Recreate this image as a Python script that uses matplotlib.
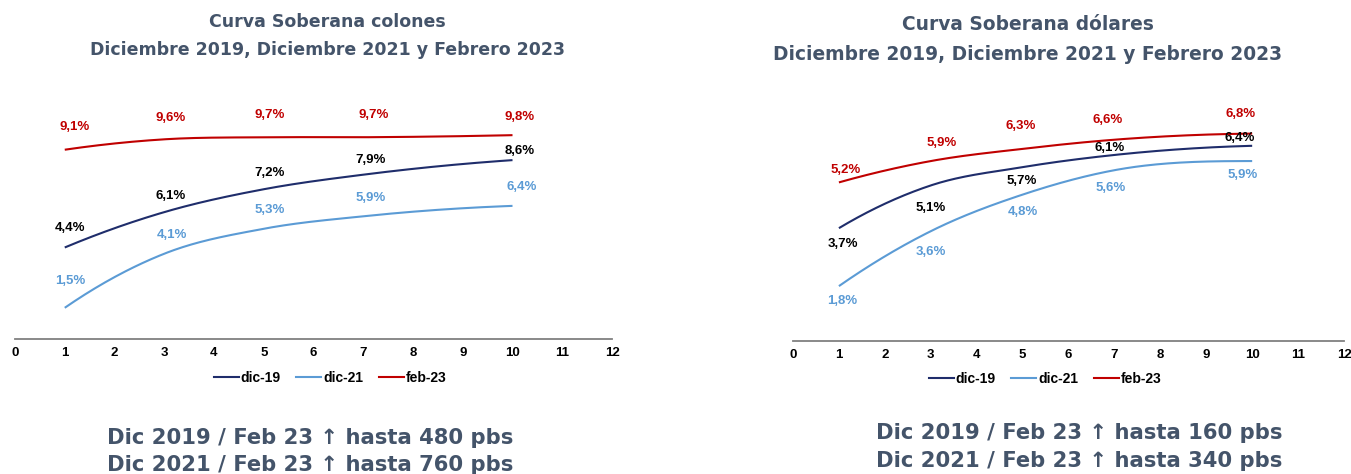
import numpy as np
import matplotlib
matplotlib.use("Agg")
import matplotlib.pyplot as plt
from matplotlib.lines import Line2D

# ---------------- data ----------------
plazos = [1, 3, 5, 7, 10]
series_names = ["dic-19", "dic-21", "feb-23"]

colones_dic19 = [4.4, 6.1, 7.2, 7.9, 8.6]
colones_dic21 = [1.5, 4.1, 5.3, 5.9, 6.4]
colones_feb23 = [9.1, 9.6, 9.7, 9.7, 9.8]

dolares_dic19 = [3.7, 5.1, 5.7, 6.1, 6.4]
dolares_dic21 = [1.8, 3.6, 4.8, 5.6, 5.9]
dolares_feb23 = [5.2, 5.9, 6.3, 6.6, 6.8]

x_ticks = list(range(0, 13))

title_colones = ["Curva Soberana colones", "Diciembre 2019, Diciembre 2021 y Febrero 2023"]
title_dolares = ["Curva Soberana dólares", "Diciembre 2019, Diciembre 2021 y Febrero 2023"]
notes_colones = ["Dic 2019 / Feb 23 \u2191 hasta 480 pbs", "Dic 2021 / Feb 23 \u2191 hasta 760 pbs"]
notes_dolares = ["Dic 2019 / Feb 23 \u2191 hasta 160 pbs", "Dic 2021 / Feb 23 \u2191 hasta 340 pbs"]

# ---------------- style ----------------
C_DIC19 = "#1F2D6B"
C_DIC21 = "#5B9BD5"
C_FEB23 = "#C00000"
LBL_COLORS = ["#000000", C_DIC21, C_FEB23]
LINE_COLORS = [C_DIC19, C_DIC21, C_FEB23]
TITLE_COLOR = "#44546A"

# label offsets in pixels (dx, dy up-positive)
off_col = [
    [(5, 19), (6, 16), (6, 16), (7, 15), (7, 9)],
    [(5, 27), (8, 19), (6, 19), (7, 18), (9, 19)],
    [(10, 23), (6, 21), (6, 22), (10, 22), (7, 18)],
]
off_dol = [
    [(4, -16), (0, -23), (-1, -14), (-5, 7), (-12, 8)],
    [(3, -15), (0, -21), (0, -17), (-4, -18), (-9, -14)],
    [(7, 12), (11, 18), (-2, 23), (-7, 20), (-12, 20)],
]


def smooth(xs, ys, n=60):
    """Smoothed line rendering (cubic Hermite through the data points)."""
    x = np.asarray(xs, float)
    y = np.asarray(ys, float)
    h = np.diff(x)
    s = np.diff(y) / h
    m = np.zeros_like(x)
    for i in range(1, len(x) - 1):
        m[i] = (h[i] * s[i - 1] + h[i - 1] * s[i]) / (h[i - 1] + h[i])
    m[0] = s[0] + (s[0] - s[1]) * h[0] / (h[0] + h[1])
    m[-1] = s[-1] + (s[-1] - s[-2]) * h[-1] / (h[-1] + h[-2])
    if m[-1] * s[-1] < 0:
        m[-1] = 0.0
    if m[0] * s[0] < 0:
        m[0] = 0.0
    X, Y = [], []
    for i in range(len(x) - 1):
        t = np.linspace(0, 1, n)
        h00 = 2 * t ** 3 - 3 * t ** 2 + 1
        h10 = t ** 3 - 2 * t ** 2 + t
        h01 = -2 * t ** 3 + 3 * t ** 2
        h11 = t ** 3 - t ** 2
        yy = h00 * y[i] + h10 * h[i] * m[i] + h01 * y[i + 1] + h11 * h[i] * m[i + 1]
        xx = x[i] + t * h[i]
        if i:
            xx, yy = xx[1:], yy[1:]
        X.append(xx)
        Y.append(yy)
    return np.concatenate(X), np.concatenate(Y)


W, H = 1351, 474
fig = plt.figure(figsize=(W / 100, H / 100), dpi=100)

LBL_FONT = dict(family="Liberation Sans", weight="bold", fontsize=9.5)


def draw(rect, ylim, data, offsets):
    ax = fig.add_axes(rect)
    for vals, col, lc, offs in zip(data, LINE_COLORS, LBL_COLORS, offsets):
        sx, sy = smooth(plazos, vals)
        ax.plot(sx, sy, color=col, lw=1.5, solid_capstyle="butt")
        for x, v, (dx, dy) in zip(plazos, vals, offs):
            ax.annotate(f"{v:.1f}%".replace(".", ","), (x, v), xytext=(dx * 0.72, dy * 0.72),
                        textcoords="offset points", ha="center", va="center", color=lc, **LBL_FONT)
    ax.set_xlim(0, 12)
    ax.set_ylim(*ylim)
    ax.set_xticks(x_ticks)
    ax.set_xticklabels([str(t) for t in x_ticks], family="Liberation Sans", weight="bold", fontsize=9.5)
    ax.tick_params(axis="x", length=0, pad=6)
    ax.set_yticks([])
    for s in ["top", "left", "right"]:
        ax.spines[s].set_visible(False)
    ax.spines["bottom"].set_color("#808080")
    ax.spines["bottom"].set_linewidth(1.3)
    ax.patch.set_alpha(0)
    return ax


def px_rect(x0, x1, y0_px, ppu, ymax):
    h = ymax * ppu
    return [x0 / W, (H - y0_px) / H, (x1 - x0) / W, h / H]


ax1 = draw(px_rect(15, 612, 339, 20.8, 10.8), (0, 10.8),
           [colones_dic19, colones_dic21, colones_feb23], off_col)
ax2 = draw(px_rect(793, 1344, 341, 30.5, 7.6), (0, 7.6),
           [dolares_dic19, dolares_dic21, dolares_feb23], off_dol)

handles = [Line2D([], [], color=c, lw=1.5) for c in LINE_COLORS]
leg_font = dict(family="Liberation Sans", weight="bold", size=10)
for cx, cy in [(330, 378), (1045, 379)]:
    fig.legend(handles, series_names, loc="center", bbox_to_anchor=(cx / W, 1 - cy / H),
               ncol=3, frameon=False, prop=leg_font, handlelength=1.8, handletextpad=0.15,
               columnspacing=1.1, borderaxespad=0, borderpad=0)

# titles
title_font = dict(family="DejaVu Sans", weight="bold", color=TITLE_COLOR, ha="center", va="center")
for cx, ys, size, lines in [(327, (22, 50), 12.5, title_colones), (1028, (24, 54), 13.4, title_dolares)]:
    for y, t in zip(ys, lines):
        fig.text(cx / W, 1 - y / H, t, fontsize=size, **title_font)

# notes
note_font = dict(family=["DejaVu Sans"], weight="bold", fontsize=15.2)
for (cx, ys), notes in [((310, (438, 465)), notes_colones), ((1079, (433, 461)), notes_dolares)]:
    for y, t in zip(ys, notes):
        fig.text(cx / W, 1 - y / H, t, ha="center", va="center", color=TITLE_COLOR, **note_font)

fig.savefig("out.png", dpi=100)
